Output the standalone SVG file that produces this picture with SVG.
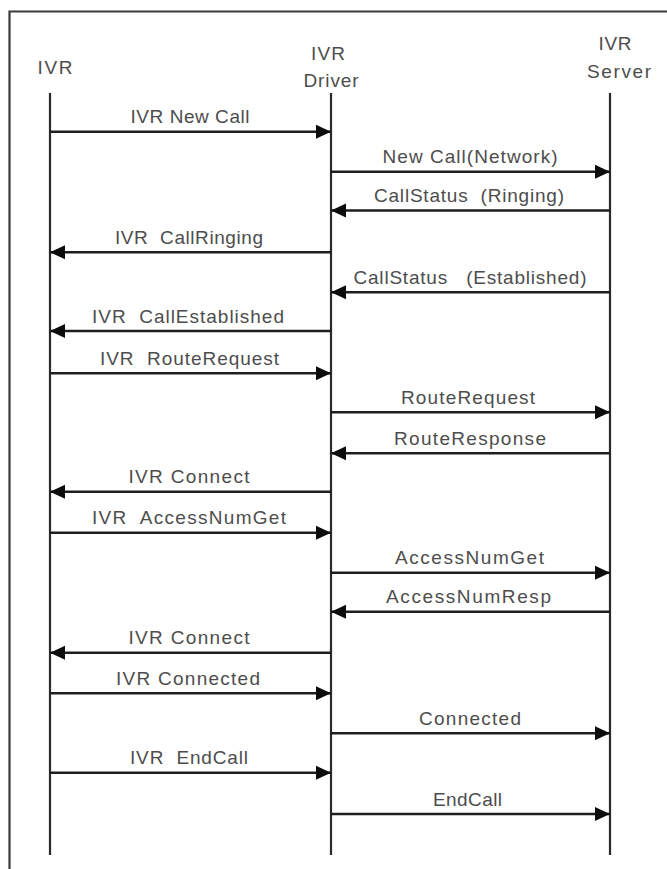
<svg xmlns="http://www.w3.org/2000/svg" width="667" height="869" viewBox="0 0 667 869">
  <style>
    .frame { fill: none; stroke: #3a3a3a; stroke-width: 2.2; }
    .life { stroke: #2a2a2a; stroke-width: 2.2; }
    .msg { stroke: #1e1e1e; stroke-width: 2.4; fill: none; }
    .fwd { marker-end: url(#head); }
    .head-txt, .lbl { font-family: "Liberation Sans", Arial, sans-serif; font-size: 19px; fill: #4d4d4d; text-anchor: middle; white-space: pre; }
  </style>
  <defs>
    <marker id="head" markerUnits="userSpaceOnUse" markerWidth="16" markerHeight="16" viewBox="0 0 16 16" refX="15" refY="8" orient="auto">
      <path d="M0,1 L15,8 L0,15 Z" fill="#0c0c0c"/>
    </marker>
  </defs>

  <rect width="667" height="869" fill="#ffffff"/>

  <!-- outer frame: only the top and left edges fall inside the canvas -->
  <path class="frame" d="M9.5,880 V11.5 H680"/>

  <!-- participants -->
  <g id="ivr">
    <text class="head-txt" x="55" y="74" textLength="35" lengthAdjust="spacing">IVR</text>
    <line class="life" x1="50" y1="93" x2="50" y2="855"/>
  </g>
  <g id="ivr-driver">
    <text class="head-txt" x="328" y="60" textLength="34" lengthAdjust="spacing">IVR</text>
    <text class="head-txt" x="331" y="87" textLength="55" lengthAdjust="spacing">Driver</text>
  <line class="life" x1="331" y1="93" x2="331" y2="855"/>
  </g>
  <g id="ivr-server">
    <text class="head-txt" x="615" y="50" textLength="33" lengthAdjust="spacing">IVR</text>
    <text class="head-txt" x="619" y="78" textLength="64" lengthAdjust="spacing">Server</text>
    <line class="life" x1="610" y1="93" x2="610" y2="855"/>
  </g>

  <!-- messages -->
  <g id="connectors">
    <line class="msg fwd" x1="50" y1="131.7" x2="331" y2="131.7"/>
    <line class="msg fwd" x1="331" y1="171.7" x2="610" y2="171.7"/>
    <line class="msg fwd" x1="610" y1="210.5" x2="331" y2="210.5"/>
    <line class="msg fwd" x1="331" y1="252.3" x2="50" y2="252.3"/>
    <line class="msg fwd" x1="610" y1="292.3" x2="331" y2="292.3"/>
    <line class="msg fwd" x1="331" y1="331" x2="50" y2="331"/>
    <line class="msg fwd" x1="50" y1="373.3" x2="331" y2="373.3"/>
    <line class="msg fwd" x1="331" y1="412.3" x2="610" y2="412.3"/>
    <line class="msg fwd" x1="610" y1="453.3" x2="331" y2="453.3"/>
    <line class="msg fwd" x1="331" y1="491.7" x2="50" y2="491.7"/>
    <line class="msg fwd" x1="50" y1="532.7" x2="331" y2="532.7"/>
    <line class="msg fwd" x1="331" y1="572.7" x2="610" y2="572.7"/>
    <line class="msg fwd" x1="610" y1="611.7" x2="331" y2="611.7"/>
    <line class="msg fwd" x1="331" y1="652.7" x2="50" y2="652.7"/>
    <line class="msg fwd" x1="50" y1="693.3" x2="331" y2="693.3"/>
    <line class="msg fwd" x1="331" y1="733.3" x2="610" y2="733.3"/>
    <line class="msg fwd" x1="50" y1="772.7" x2="331" y2="772.7"/>
    <line class="msg fwd" x1="331" y1="814" x2="610" y2="814"/>
  </g>

  <!-- message labels -->
  <g id="labels">
    <text class="lbl" x="190" y="123" textLength="119" lengthAdjust="spacing">IVR New Call</text>
    <text class="lbl" x="470" y="163" textLength="175" lengthAdjust="spacing">New Call(Network)</text>
    <text class="lbl" x="469" y="202" textLength="190" lengthAdjust="spacing">CallStatus  (Ringing)</text>
    <text class="lbl" x="189" y="244" textLength="148" lengthAdjust="spacing">IVR  CallRinging</text>
    <text class="lbl" x="470" y="284" textLength="233" lengthAdjust="spacing">CallStatus   (Established)</text>
    <text class="lbl" x="188" y="322.5" textLength="192" lengthAdjust="spacing">IVR  CallEstablished</text>
    <text class="lbl" x="189.5" y="365" textLength="179" lengthAdjust="spacing">IVR  RouteRequest</text>
    <text class="lbl" x="468" y="404" textLength="134" lengthAdjust="spacing">RouteRequest</text>
    <text class="lbl" x="470" y="445" textLength="152" lengthAdjust="spacing">RouteResponse</text>
    <text class="lbl" x="189" y="483" textLength="121" lengthAdjust="spacing">IVR Connect</text>
    <text class="lbl" x="189" y="524" textLength="194" lengthAdjust="spacing">IVR  AccessNumGet</text>
    <text class="lbl" x="469.5" y="564" textLength="149" lengthAdjust="spacing">AccessNumGet</text>
    <text class="lbl" x="468.5" y="603" textLength="165" lengthAdjust="spacing">AccessNumResp</text>
    <text class="lbl" x="189" y="644" textLength="121" lengthAdjust="spacing">IVR Connect</text>
    <text class="lbl" x="188" y="685" textLength="144" lengthAdjust="spacing">IVR Connected</text>
    <text class="lbl" x="470" y="725" textLength="102" lengthAdjust="spacing">Connected</text>
    <text class="lbl" x="189" y="764" textLength="118" lengthAdjust="spacing">IVR  EndCall</text>
    <text class="lbl" x="467.5" y="805.5" textLength="69" lengthAdjust="spacing">EndCall</text>
  </g>
</svg>
